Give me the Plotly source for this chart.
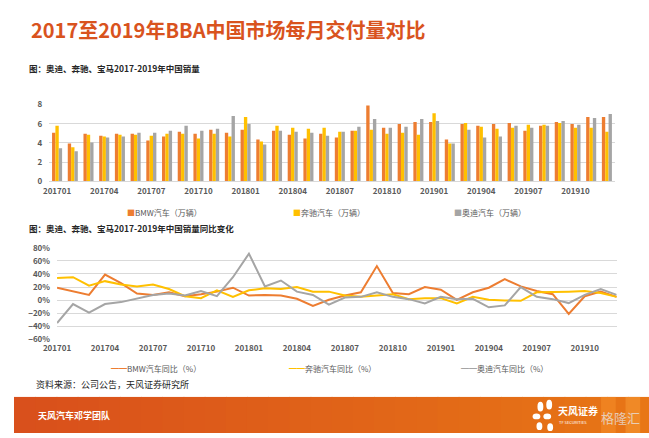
import plotly.graph_objects as go

months = [f"{y}{m:02d}" for y in (2017, 2018, 2019) for m in range(1, 13)]
tick_months = months[::3]

# monthly sales (10k units)
bmw_sales = [5.07, 3.95, 4.97, 4.76, 4.97, 4.97, 4.26, 4.66, 5.17, 4.97, 5.37, 5.07,
             5.37, 4.36, 5.27, 4.86, 4.46, 4.97, 4.56, 5.27, 7.9, 5.57, 5.98, 6.18,
             6.18, 4.36, 5.98, 5.78, 5.98, 6.08, 5.27, 5.78, 6.18, 5.98, 6.69, 6.69]
benz_sales = [5.8, 3.55, 4.86, 4.66, 4.86, 4.86, 4.76, 4.97, 4.97, 4.46, 4.97, 4.66,
              6.69, 4.16, 5.78, 5.57, 5.47, 5.57, 5.17, 5.27, 5.37, 4.97, 5.07, 4.86,
              7.09, 3.95, 6.08, 5.68, 5.47, 5.57, 5.88, 5.88, 6.08, 5.57, 5.57, 5.17]
audi_sales = [3.45, 3.15, 4.05, 4.56, 4.66, 5.07, 5.07, 5.27, 5.78, 5.27, 5.47, 6.8,
              5.98, 3.85, 5.27, 5.17, 5.07, 4.76, 5.17, 5.68, 6.49, 5.57, 5.68, 6.49,
              6.28, 3.95, 5.37, 4.56, 4.66, 5.78, 5.57, 5.78, 6.28, 5.88, 6.59, 7.0]

# year-on-year change (%)
bmw_yoy = [19, 14, 8, 39, 26, 10, 8, 12, 6, 9, 13, 19,
           7, 8, 7, 2, -9, 0.5, 7, 12, 52, 11, 9, 20,
           16, 0.5, 12, 19, 32, 21, 14, 9, -21, 6, 13, 5]
benz_yoy = [34, 35, 22, 29, 24, 21, 24, 17, 6, 3, 15, 5,
            15, 18, 17, 20, 13, 13, 7, 5, 7, 9, 1.5, 3,
            3, -5, 5, 0.5, -0.5, -1, 12, 12, 13, 14, 11, 5]
audi_yoy = [-35, -6, -19, -6, -3, 2, 8, 10, 7, 14, 6, 35,
            71, 21, 30, 13, 8, -7, 4, 5, 12, 5, 1.5, -5,
            5, 1.5, 2, -11, -8, 20, 5, 1.5, -4.5, 8, 17, 8]

C_BMW = "#ED7D31"
C_BENZ = "#FFC000"
C_AUDI = "#A5A5A5"
FONT = "Noto Sans CJK SC"
W, H = 649, 438

fig = go.Figure()
for name, vals, col in [("BMW汽车（万辆）", bmw_sales, C_BMW),
                        ("奔驰汽车（万辆）", benz_sales, C_BENZ),
                        ("奥迪汽车（万辆）", audi_sales, C_AUDI)]:
    fig.add_trace(go.Bar(x=months, y=vals, name=name, marker=dict(color=col, line_width=0),
                         xaxis="x", yaxis="y"))
for name, vals, col in [("BMW汽车同比（%）", bmw_yoy, C_BMW),
                        ("奔驰汽车同比（%）", benz_yoy, C_BENZ),
                        ("奥迪汽车同比（%）", audi_yoy, C_AUDI)]:
    fig.add_trace(go.Scatter(x=months, y=vals, name=name, mode="lines",
                             line=dict(color=col, width=2), xaxis="x2", yaxis="y2"))

tickfont = dict(family=FONT, size=8, color="#595959", weight="bold")

def px(x):
    return x / W

def py(y):
    return 1 - y / H

fig.update_layout(
    width=W, height=H, margin=dict(l=0, r=0, t=0, b=0),
    paper_bgcolor="white", plot_bgcolor="white", showlegend=False,
    barmode="group", bargap=0.36, bargroupgap=0,
    font=dict(family=FONT),
    xaxis=dict(type="category", domain=[px(36), px(614)], anchor="y",
               tickmode="array", tickvals=tick_months, ticktext=tick_months,
               tickfont=tickfont, showgrid=False, ticks="", showline=True,
               linecolor="#D9D9D9", linewidth=1, ticklabelstandoff=2),
    yaxis=dict(domain=[py(180), py(101)], range=[0, 8], dtick=2, anchor="x",
               tickfont=tickfont, gridcolor="#D9D9D9", gridwidth=1, zeroline=False,
               ticklabelstandoff=6),
    xaxis2=dict(type="category", domain=[px(44), px(616)], anchor="y2",
                tickmode="array", tickvals=tick_months, ticktext=tick_months,
                tickfont=tickfont, showgrid=False, ticks="", showline=False,
                ticklabelstandoff=3),
    yaxis2=dict(domain=[py(342), py(248)], range=[-60, 80], dtick=20, anchor="x2",
                ticksuffix="%", tickfont=tickfont, gridcolor="#D9D9D9", gridwidth=1,
                zeroline=False, ticklabelstandoff=6),
)

# footer band as gradient strips
shapes = []
n = 30
c0, c1 = (217, 80, 28), (232, 118, 22)
for i in range(n):
    t = i / (n - 1)
    r = int(c0[0] + (c1[0] - c0[0]) * t)
    g = int(c0[1] + (c1[1] - c0[1]) * t)
    b = int(c0[2] + (c1[2] - c0[2]) * t)
    shapes.append(dict(type="rect", xref="paper", yref="paper",
                       x0=i / n, x1=(i + 1) / n + 0.002, y0=0, y1=py(401),
                       fillcolor=f"rgb({r},{g},{b})", line_width=0, layer="below"))
# right stripes
for x0, x1, col in [(600, 615, "rgba(245,140,40,0.6)"), (625, 640, "rgba(245,150,50,0.6)")]:
    shapes.append(dict(type="rect", xref="paper", yref="paper", x0=px(x0), x1=px(x1),
                       y0=0, y1=py(401), fillcolor=col, line_width=0, layer="below"))
# logo petals
for cx, cy, rx, ry in [(538, 411, 3, 5), (547, 409, 3, 5), (534, 421, 4, 3),
                       (545, 421, 4, 3), (537, 431, 3, 4), (548, 432, 3, 4)]:
    shapes.append(dict(type="circle", xref="paper", yref="paper",
                       x0=px(cx - rx), x1=px(cx + rx), y0=py(cy + ry), y1=py(cy - ry),
                       fillcolor="white", line_width=0))
fig.update_layout(shapes=shapes)

ann = []

def text(x, y, s, size, color="#262626", bold=False, anchor="left"):
    ann.append(dict(x=px(x), y=py(y), xref="paper", yref="paper", text=s,
                    showarrow=False, xanchor=anchor, yanchor="middle",
                    font=dict(family=FONT, size=size, color=color,
                              weight="bold" if bold else "normal")))

text(15, 24, "2017至2019年BBA中国市场每月交付量对比", 20, "#D9531E", True)
text(13, 64, "图：奥迪、奔驰、宝马2017-2019年中国销量", 8.5, "#262626", True)
text(13, 228, "图：奥迪、奔驰、宝马2017-2019年中国销量同比变化", 8.5, "#262626", True)
text(20, 388, "资料来源：公司公告，天风证券研究所", 9, "#262626")
text(22, 420, "天风汽车邓学团队", 9, "white", True)
text(554, 415, "天风证券", 10, "white", True)
text(555, 427, "TF SECURITIES", 4, "white")
text(598, 422, "格隆汇", 13, "rgba(230,230,230,0.75)")

# legends
for x, label, col in [(113, "BMW汽车（万辆）", C_BMW), (283, "奔驰汽车（万辆）", C_BENZ),
                      (448, "奥迪汽车（万辆）", C_AUDI)]:
    text(x, 212, f"<span style='color:{col}'>■</span>{label}", 8, "#595959")
for x, label, col in [(97, "BMW汽车同比（%）", C_BMW), (279, "奔驰汽车同比（%）", C_BENZ),
                      (455, "奥迪汽车同比（%）", C_AUDI)]:
    text(x, 372, f"<span style='color:{col}'>━━</span>{label}", 8, "#595959")

fig.update_layout(annotations=ann)
fig.write_html("out.html", config={"displayModeBar": False},
               post_script="document.body.style.margin='0';")
